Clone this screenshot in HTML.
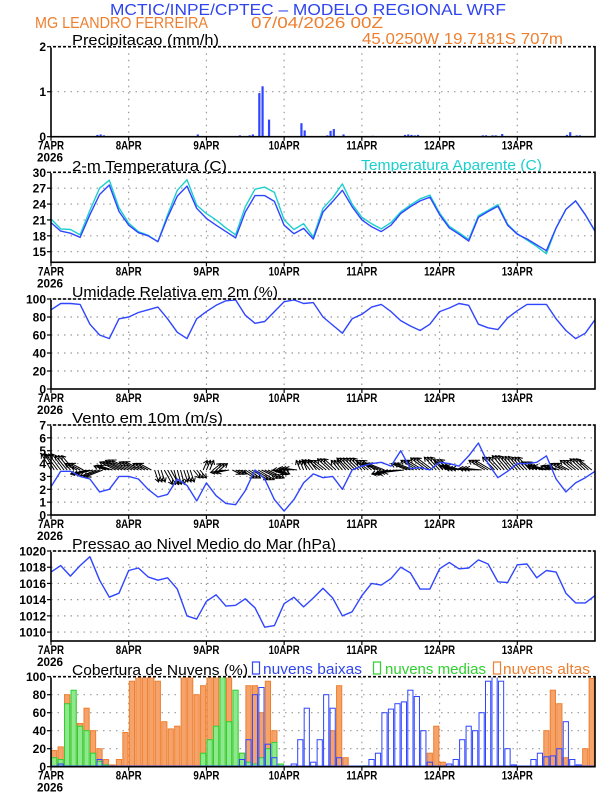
<!DOCTYPE html>
<html><head><meta charset="utf-8"><title>Meteograma WRF</title>
<style>
html,body{margin:0;padding:0;background:#fff;}
svg{display:block;font-family:"Liberation Sans",sans-serif;}
.tk{font-size:12px;font-weight:bold;fill:#000;}
.pt{font-size:15px;fill:#000;}
</style></head>
<body>
<svg id="chart" width="612" height="792" viewBox="0 0 612 792">
<text x="308" y="15" text-anchor="middle" font-size="16" fill="#2f45ee" textLength="396" lengthAdjust="spacingAndGlyphs">MCTIC/INPE/CPTEC – MODELO REGIONAL WRF</text>
<text x="35" y="28" font-size="16" fill="#ee7f2f" textLength="173" lengthAdjust="spacingAndGlyphs">MG LEANDRO FERREIRA</text>
<text x="251" y="28" font-size="16" fill="#ee7f2f" textLength="132" lengthAdjust="spacingAndGlyphs">07/04/2026 00Z</text>
<text x="72" y="45" class="pt" textLength="147" lengthAdjust="spacingAndGlyphs">Precipitacao (mm/h)</text>
<text x="362" y="44" font-size="16" fill="#ee7f2f" textLength="201" lengthAdjust="spacingAndGlyphs">45.0250W 19.7181S 707m</text>
<text x="72" y="171" class="pt" textLength="155" lengthAdjust="spacingAndGlyphs">2-m Temperatura (C)</text>
<text x="361" y="170" font-size="15" fill="#1ccfcf" textLength="181" lengthAdjust="spacingAndGlyphs">Temperatura Aparente (C)</text>
<text x="72" y="297" class="pt" textLength="206" lengthAdjust="spacingAndGlyphs">Umidade Relativa em 2m (%)</text>
<text x="72" y="423" class="pt" textLength="151" lengthAdjust="spacingAndGlyphs">Vento em 10m (m/s)</text>
<text x="72" y="549" class="pt" textLength="264" lengthAdjust="spacingAndGlyphs">Pressao ao Nivel Medio do Mar (hPa)</text>
<text x="72" y="675" class="pt" textLength="176" lengthAdjust="spacingAndGlyphs">Cobertura de Nuvens (%)</text>
<rect x="252.5" y="662" width="7" height="12" fill="none" stroke="#2f45ee" stroke-width="1.2"/>
<text x="263" y="674" font-size="15" fill="#2f45ee" textLength="99" lengthAdjust="spacingAndGlyphs">nuvens baixas</text>
<rect x="373.5" y="662" width="7" height="12" fill="none" stroke="#2fd02f" stroke-width="1.2"/>
<text x="385" y="674" font-size="15" fill="#2fd02f" textLength="101" lengthAdjust="spacingAndGlyphs">nuvens medias</text>
<rect x="493.5" y="662" width="7" height="12" fill="none" stroke="#ee7f2f" stroke-width="1.2"/>
<text x="503" y="674" font-size="15" fill="#ee7f2f" textLength="87" lengthAdjust="spacingAndGlyphs">nuvens altas</text>
</svg>
<script>
const dayLabels=["7APR","8APR","9APR","10APR","11APR","12APR","13APR"];
const precip=[0,0,0,0,0,0,0,0,0,0,0,0,0,0,0.04,0.05,0.03,0,0,0,0,0,0,0,
0,0,0,0,0,0,0,0,0,0,0,0,0,0,0,0,0,0,0,0,0,0.05,0,0,
0,0,0,0,0,0,0,0,0,0,0.03,0,0,0.03,0.05,0,0.97,1.12,0,0.38,0,0.01,0,0,
0,0,0,0,0,0.30,0.14,0,0,0,0,0,0,0.03,0.13,0.17,0,0,0.05,0,0,0,0,0,
0,0,0,0.02,0,0,0,0,0,0,0,0,0,0.04,0.05,0.04,0.03,0.04,0,0,0,0,0,0,
0,0,0,0,0,0,0,0,0,0,0,0,0,0.03,0.03,0,0.03,0.03,0,0.06,0,0,0,0,
0,0,0,0,0,0,0,0,0,0,0,0,0,0,0,0.04,0.10,0,0.03,0.03,0,0,0,0];
const temp=[20.5,18.9,18.5,17.7,22.0,25.8,27.6,22.6,20.0,18.6,18.0,16.9,21.5,25.5,27.4,23.2,21.3,20.0,18.8,17.6,22.5,25.6,25.6,24.5,20.0,18.4,19.4,17.4,22.5,24.5,26.6,23.5,21.0,19.7,18.8,20.0,22.2,23.5,24.6,25.3,22.0,19.5,18.3,17.0,21.5,22.6,23.6,20.0,18.3,17.4,16.3,15.2,19.5,23.0,24.6,22.0,18.9];
const tempApp=[21.2,19.3,19.2,18.2,22.8,27.0,28.5,23.3,20.4,18.8,18.1,16.9,22.0,26.6,28.6,23.8,22.2,21.0,19.5,18.2,23.5,26.8,27.2,26.2,21.0,19.2,20.3,17.8,23.2,25.2,27.8,24.0,21.5,20.3,19.3,20.5,22.5,23.8,25.0,25.7,22.3,19.8,18.6,17.3,21.8,22.8,23.9,20.2,18.4,17.2,16.0,14.6,19.5,23.0,24.6,22.0,18.9];
const rh=[88,95,95,94,72,60,56,78,80,85,88,91,78,63,56,78,86,93,98,99,82,73,75,86,97,99,95,96,80,71,62,78,83,91,94,86,76,70,65,72,86,90,95,93,72,68,66,79,87,94,94,94,78,65,56,62,77];
const windSpeed=[2.2,3.4,3.4,3.0,2.8,1.8,2.0,3.0,3.0,2.8,2.0,1.4,1.6,2.8,2.3,1.1,2.5,1.5,0.9,0.8,1.9,3.5,2.8,1.2,0.3,1.2,2.5,3.2,2.9,3.0,2.0,3.5,3.8,4.0,4.1,3.8,5.0,3.6,3.7,3.5,4.1,4.0,3.8,4.6,5.6,4.0,2.9,3.4,4.0,4.0,4.1,4.6,2.8,1.8,2.5,2.9,3.4];
const windU=[-1.2,-1.5,-1.5,-1.5,-2,-2,-1.5,-2,-2.5,-2,-1.5,0.5,1,0.5,0.5,0.8,0.5,1,-1.5,1,1.5,2,2,1.5,-1,-1.5,-0.5,-1,-1.5,-1.5,-1,-1.5,-1.5,-1.5,-2,-2,-2.5,-2,-2,-2,-1.5,-1.5,-2,-2.5,-2,-2,-1.5,-1.5,-1.5,-1.5,-1.5,-2,-1.5,-1.5,-1.5,-1.5,-1.5];
const windV=[2.0,2.0,1.8,0.8,-0.5,-0.8,0.5,1,1.2,1,0.8,-1.5,-1.8,-1.8,-1.5,-1,1.2,0.8,-0.3,-0.5,-1,-1.2,-1,-0.5,0,0.2,1.2,1.3,1.2,1.4,1.2,1.5,1.5,1.2,0.8,-0.5,-0.3,0.8,1.2,1.5,1.6,1.3,0.5,0.2,0.2,1.2,1.6,1.8,1.7,1.6,1.0,0.5,0.5,0.8,1.2,1.4,1.2];
const pressure=[1017.4,1018.2,1016.9,1018.2,1019.3,1016.4,1014.3,1014.8,1017.6,1017.9,1016.8,1016.4,1016.7,1015.3,1012.0,1011.6,1013.8,1014.6,1013.2,1013.3,1014.1,1013.0,1010.6,1010.8,1013.5,1014.3,1013.1,1014.2,1015.4,1014.2,1012.0,1012.5,1014.5,1016.0,1015.8,1016.6,1018.0,1017.3,1015.3,1015.3,1017.8,1018.6,1017.8,1017.9,1018.9,1018.4,1016.2,1016.1,1018.3,1018.4,1016.7,1017.6,1017.4,1014.8,1013.6,1013.6,1014.5];
const cloudHigh=[18,22,80,75,48,65,40,20,8,2,8,38,95,100,100,100,95,50,42,45,100,100,80,90,100,100,100,100,50,15,90,90,60,95,40,0,0,0,0,0,0,0,0,40,90,10,0,0,0,0,0,0,0,0,0,0,0,0,15,45,5,0,0,0,0,0,0,0,0,0,0,0,0,0,0,0,40,85,70,10,0,0,20,98];
const cloudMid=[10,8,70,85,45,40,15,6,2,0,0,0,0,0,0,0,0,0,0,0,0,0,0,15,30,45,100,50,85,15,5,3,10,20,27,3,0,0,0,0,0,0,0,0,0,0,0,0,1,0,0,0,0,0,0,0,0,0,0,0,0,0,0,0,0,0,0,0,0,0,0,0,0,0,0,0,0,0,0,0,0,0,0,0];
const cloudLow=[0,3,0,0,0,0,0,8,0,0,0,0,0,0,0,0,0,0,0,0,0,0,0,0,0,0,0,0,0,8,30,80,88,25,10,0,0,3,30,65,5,30,80,65,10,0,0,0,0,8,15,60,64,70,72,85,78,40,5,0,0,3,8,30,45,40,60,95,100,95,20,2,0,0,8,15,11,12,20,50,8,2,0,0];

const NS='http://www.w3.org/2000/svg';
const svg=document.getElementById('chart');
const X0=51,X1=595,PH=90;
function xh(h){return X0+h*(X1-X0)/168;}
function mk(tag,attrs,parent){const e=document.createElementNS(NS,tag);for(const k in attrs)e.setAttribute(k,attrs[k]);(parent||svg).appendChild(e);return e;}
function yScale(p,v){return p.top+PH-(v-p.min)/(p.max-p.min)*PH;}

const panels=[
 {key:'precip',top:46.7,min:0,max:2,ticks:[0,1,2]},
 {key:'temp',top:172.3,min:13,max:30,ticks:[15,18,21,24,27,30]},
 {key:'rh',top:299,min:0,max:100,ticks:[0,20,40,60,80,100]},
 {key:'wind',top:425,min:0,max:7,ticks:[0,1,2,3,4,5,6,7]},
 {key:'pressure',top:551,min:1008.9,max:1020,ticks:[1010,1012,1014,1016,1018,1020]},
 {key:'cloud',top:676.7,min:0,max:100,ticks:[0,20,40,60,80,100]}
];

function drawFrame(p){
 const g=mk('g',{});
 
 
 for(const t of p.ticks){
  const y=yScale(p,t);
  if(y>p.top+1&&y<p.top+PH-1){const l=mk('line',{x1:X0,x2:X1,y1:y,y2:y,stroke:'#999','stroke-width':1.2,'stroke-dasharray':'1.5,5'},g);
   
   }
  const tl=mk('line',{x1:X0-4,x2:X0,y1:y,y2:y,stroke:'#000','stroke-width':1.2},g);
  
  
  const tx=mk('text',{x:X0-5,y:y+4.5,'text-anchor':'end',class:'tk'},g);
  tx.textContent=String(t);
  
  
 }
 for(let d=0;d<7;d++){
  const x=xh(d*24);
  if(d>0){const l=mk('line',{x1:x,x2:x,y1:p.top,y2:p.top+PH,stroke:'#999','stroke-width':1.2,'stroke-dasharray':'1.5,5'},g);
   
   }
  const tl=mk('line',{x1:x,x2:x,y1:p.top+PH,y2:p.top+PH+4,stroke:'#000','stroke-width':1.2},g);
  
  
  const tx=mk('text',{x:x,y:p.top+PH+13,'text-anchor':'middle',class:'tk',textLength:dayLabels[d].length>4?31:26,lengthAdjust:'spacingAndGlyphs'},g);
  tx.textContent=dayLabels[d];
  
  
 }
 const yr=mk('text',{x:X0-1,y:p.top+PH+25,'text-anchor':'middle',class:'tk',textLength:26,lengthAdjust:'spacingAndGlyphs'},g);
 yr.textContent='2026';
 
 
 return g;
}
function drawBorder(p){
 const b=mk('rect',{x:X0,y:p.top,width:X1-X0,height:PH,fill:'none',stroke:'#000','stroke-width':1.6});
 
 
 const t=mk('line',{x1:X0,x2:X1,y1:p.top,y2:p.top,stroke:'#fff','stroke-width':1.6,'stroke-dasharray':'2,3'});
 
 
}
function drawLine(p,arr,color,name){
 const pts=arr.map((v,i)=>xh(i*3).toFixed(1)+','+yScale(p,v).toFixed(1)).join(' ');
 const l=mk('polyline',{points:pts,fill:'none',stroke:color,'stroke-width':1.4,'stroke-linejoin':'round'});
 
 
}
panels.forEach(drawFrame);

// precipitation bars
const pP=panels[0];
precip.forEach((v,i)=>{ if(v<=0)return;
 const y=yScale(pP,v);
 const r=mk('rect',{x:xh(i),y:y,width:2.2,height:pP.top+PH-y,fill:'#2f45ff'});
 
 
});
// temperature
drawLine(panels[1],tempApp,'#1ccfcf','apparent-temp-line');
drawLine(panels[1],temp,'#2f45ff','temp-line');
// RH
drawLine(panels[2],rh,'#2f45ff','rh-line');
// wind vectors
const pW=panels[3];
let d='';const S=8,base=yScale(pW,3.5);
for(let j=0;j<168;j++){
 const k=Math.round(j/3);
 const u=windU[k],v=windV[k];
 const bx=xh(j),tx=bx+u*S,ty=base-v*S;
 const L=Math.hypot(tx-bx,ty-base)||1,ux=(tx-bx)/L,uy=(ty-base)/L;
 d+='M'+bx.toFixed(1)+','+base.toFixed(1)+'L'+tx.toFixed(1)+','+ty.toFixed(1);
 d+='M'+(tx-ux*4-uy*2.5).toFixed(1)+','+(ty-uy*4+ux*2.5).toFixed(1)+'L'+tx.toFixed(1)+','+ty.toFixed(1)+'L'+(tx-ux*4+uy*2.5).toFixed(1)+','+(ty-uy*4-ux*2.5).toFixed(1);
}
const wv=mk('path',{d:d,fill:'none',stroke:'#000','stroke-width':1});


drawLine(pW,windSpeed,'#2f45ff','wind-speed-line');
// pressure
drawLine(panels[4],pressure,'#2f45ff','pressure-line');
// clouds
const pC=panels[5];
function cloudBars(arr,fill,stroke,name){
 arr.forEach((v,i)=>{ if(v<=0)return;
  const y=yScale(pC,v);
  const r=mk('rect',{x:xh(i*2)+0.6,y:y,width:5.2,height:pC.top+PH-y,fill:fill,stroke:stroke,'stroke-width':1});
  
  
 });
}
cloudBars(cloudHigh,'#f5a36a','#ee7f2f','cloud-high-bar');
cloudBars(cloudMid,'#8ee88e','#2fd02f','cloud-mid-bar');
cloudBars(cloudLow,'none','#2f45ff','cloud-low-bar');
const zl=mk('line',{x1:X0,x2:X1,y1:pC.top+PH-0.5,y2:pC.top+PH-0.5,stroke:'#2f45ff','stroke-width':1.5});


panels.forEach(drawBorder);
</script>
</body></html>
